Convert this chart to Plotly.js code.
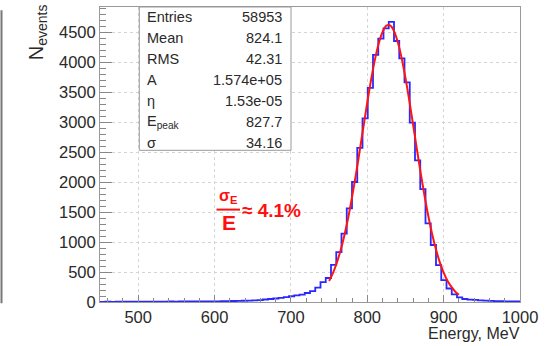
<!DOCTYPE html>
<html>
<head>
<meta charset="utf-8">
<script src="https://cdn.plot.ly/plotly-3.0.1.min.js"></script>
<style>
html,body{margin:0;padding:0;background:#fff;}
#chart{width:559px;height:346px;}
</style>
</head>
<body>
<div id="chart"></div>
<script>
// Histogram: 80 bins from 450 to 1000 MeV
const binLow = 450;
const binWidth = 6.875;
const counts = [
  3,4,3,5,4,5,4,6,5,6,
  6,7,6,8,7,9,8,9,10,10,
  11,12,12,14,15,17,19,21,24,27,
  30,42,50,58,68,80,96,110,124,150,
  180,240,330,400,620,830,1140,1560,2000,2570,
  3060,3570,4120,4390,4560,4670,4350,4060,3660,2990,
  2360,1880,1310,950,615,365,225,128,78,50,
  40,35,28,24,20,16,14,12,10,10
];
// Fit curve
const fitE = [750,755,760,765,770,775,780,785,790,795,800,805,810,815,820,825,830,835,840,845,850,855,860,865,870,875,880,885,890,895,900,905,910,915,920];
const fitN = [350,480,650,860,1110,1405,1745,2115,2515,2920,3325,3705,4040,4310,4500,4605,4610,4515,4330,4065,3735,3360,2955,2545,2145,1770,1430,1130,875,660,490,355,255,175,120];

const statLabels = ["Entries","Mean","RMS","A","η","E<sub>peak</sub>","σ"];
const statValues = ["58953","824.1","42.31","1.574e+05","1.53e-05","827.7","34.16"];

const xTitle = "Energy, MeV";
const yTitle = "N<sub>events</sub>";

// geometry helpers (pixel -> paper)
const L = 100, R = 520, T = 6.7, B = 301.7;
const px = v => (v - L) / (R - L);
const py = v => (B - v) / (B - T);

const hx = [], hy = [];
for (let i = 0; i < counts.length; i++) { hx.push(binLow + i * binWidth); hy.push(counts[i]); }
hx.push(binLow + counts.length * binWidth); hy.push(counts[counts.length - 1]);

const font = "Liberation Sans, Arial, Helvetica, sans-serif";
const txt = '#2a2a2a';
const traces = [
  {x: hx, y: hy, type: 'scatter', mode: 'lines', line: {shape: 'hv', color: 'rgb(40,40,255)', width: 1.8}, hoverinfo: 'skip'},
  {x: fitE, y: fitN, type: 'scatter', mode: 'lines', line: {shape: 'spline', color: 'rgb(255,20,20)', width: 2}, hoverinfo: 'skip'}
];

const annotations = [];
const rowY = [16.7, 38.0, 59.2, 80.2, 100.8, 121.5, 142.5];
for (let i = 0; i < statLabels.length; i++) {
  annotations.push({xref: 'paper', yref: 'paper', x: px(145.5), y: py(rowY[i]), xanchor: 'left', yanchor: 'middle', borderpad: 0,
    text: statLabels[i], showarrow: false, font: {family: font, size: 14.5, color: txt}});
  annotations.push({xref: 'paper', yref: 'paper', x: px(283), y: py(rowY[i]), xanchor: 'right', yanchor: 'middle', borderpad: 0,
    text: statValues[i], showarrow: false, font: {family: font, size: 14.5, color: txt}});
}
annotations.push({xref: 'paper', yref: 'paper', x: px(521), y: py(333.5), xanchor: 'right', yanchor: 'middle', borderpad: 0,
  text: xTitle, showarrow: false, font: {family: font, size: 16, color: txt}});
annotations.push({xref: 'paper', yref: 'paper', x: px(37), y: py(32), xanchor: 'center', yanchor: 'middle', textangle: -90, borderpad: 0,
  text: yTitle, showarrow: false, font: {family: font, size: 20, color: txt}});
// resolution annotation
annotations.push({xref: 'paper', yref: 'paper', x: px(228.5), y: py(196.5), xanchor: 'center', yanchor: 'middle', borderpad: 0,
  text: "<b>σ<sub>E</sub></b>", showarrow: false, font: {family: font, size: 16, color: '#ff1010'}});
annotations.push({xref: 'paper', yref: 'paper', x: px(228.5), y: py(222.5), xanchor: 'center', yanchor: 'middle', borderpad: 0,
  text: "<b>E</b>", showarrow: false, font: {family: font, size: 21, color: '#ff1010'}});
annotations.push({xref: 'paper', yref: 'paper', x: px(240.5), y: py(210.5), xanchor: 'left', yanchor: 'middle', borderpad: 0,
  text: "<b>≈ 4.1%</b>", showarrow: false, font: {family: font, size: 19, color: '#ff1010'}});

const shapes = [
  {type: 'rect', xref: 'paper', yref: 'paper', x0: px(139.3), x1: px(291), y0: py(150), y1: 1,
   fillcolor: '#fff', line: {color: '#999', width: 1}, layer: 'above'},
  {type: 'line', xref: 'paper', yref: 'paper', x0: px(216.5), x1: px(240), y0: py(209.3), y1: py(209.3),
   line: {color: '#ff1010', width: 2}},
  {type: 'line', xref: 'paper', yref: 'paper', x0: px(1.5), x1: px(1.5), y0: py(303), y1: py(10),
   line: {color: '#777', width: 2}}
];

const axisCommon = {
  showline: true, mirror: true, linecolor: '#999', linewidth: 1,
  ticks: 'inside', tickcolor: '#888', showgrid: true, gridcolor: '#d4d4d4', griddash: 'dot', gridwidth: 1,
  zeroline: false, tickfont: {family: font, size: 16.5, color: txt}
};
const layout = {
  width: 559, height: 346,
  margin: {l: L, r: 559 - R, t: T, b: 346 - B},
  paper_bgcolor: '#fff', plot_bgcolor: '#fff',
  showlegend: false,
  xaxis: Object.assign({}, axisCommon, {range: [450, 1000], tick0: 0, dtick: 100, ticklen: 7,
    minor: {ticks: 'inside', dtick: 20, ticklen: 4, tickcolor: '#888', showgrid: false}}),
  yaxis: Object.assign({}, axisCommon, {range: [0, 4917], tick0: 0, dtick: 500, ticklen: 12,
    minor: {ticks: 'inside', dtick: 100, ticklen: 6, tickcolor: '#888', showgrid: false}}),
  annotations: annotations,
  shapes: shapes
};
Plotly.newPlot('chart', traces, layout, {staticPlot: true, displayModeBar: false});
</script>
</body>
</html>
